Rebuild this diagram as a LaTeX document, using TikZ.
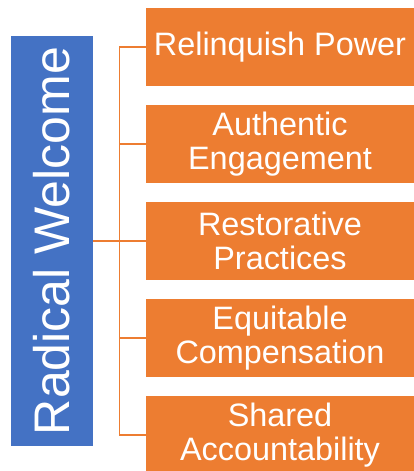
\documentclass[tikz,border=0pt]{standalone}
\usepackage{fontspec}
\setmainfont{Liberation Sans}
\usepackage{tikz}
\definecolor{hubblue}{HTML}{4472C4}
\definecolor{leaforange}{HTML}{ED7D31}
\begin{document}
\begin{tikzpicture}[x=1pt, y=-1pt,
                hub/.style={fill=hubblue, minimum width=82pt, minimum height=410pt, inner sep=0pt},
                leaf/.style={fill=leaforange, text=white, minimum width=268pt, minimum height=78pt, inner sep=0pt, align=center, font=\fontsize{32.4}{34}\selectfont},
                link/.style={draw=leaforange, line width=1.4pt}]
                \useasboundingbox (0, 0) rectangle (414, 471);
                \node[hub] (welcome) at (52, 241){};
                \node[rotate=90, text=white, font=\fontsize{50}{50}\selectfont] at (welcome.center){Radical Welcome};
                \node[leaf] (power) at (280, 47){Relinquish Power};
                \node[leaf] (engage) at (280, 144){Authentic\\Engagement};
                \node[leaf] (restore) at (280, 241){Restorative\\Practices};
                \node[leaf] (equity) at (280, 338){Equitable\\Compensation};
                \node[leaf] (account) at (280, 435){Shared\\Accountability};
                \coordinate (trunk) at (119.5, 241);
                \draw[link] (welcome.east) -- (trunk);
                \foreach \b in {power, engage, restore, equity, account}
                        \draw[link] (trunk) |- (\b.west);
        \end{tikzpicture}
\end{document}
